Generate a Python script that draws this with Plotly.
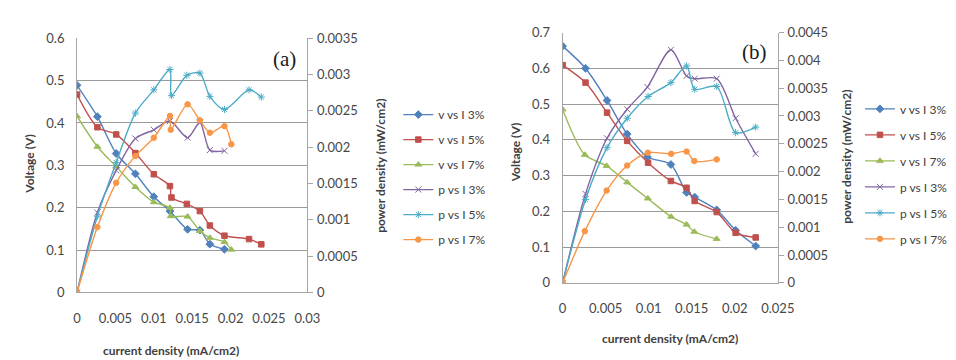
import plotly.graph_objects as go

# ---------------- data: chart (a) ----------------
x3a = [0, 0.00265, 0.0051, 0.0076, 0.0100, 0.0121, 0.0144, 0.0160, 0.0173, 0.0192]
v3a = [0.489, 0.415, 0.328, 0.280, 0.226, 0.192, 0.149, 0.147, 0.114, 0.102]
p3a = [0, 0.00110, 0.00168, 0.00212, 0.00224, 0.00236, 0.00213, 0.00234, 0.00196, 0.00195]

x5a = [0, 0.00265, 0.0051, 0.0076, 0.0100, 0.0121, 0.0123, 0.0143, 0.0160, 0.0173, 0.0192, 0.0224, 0.0240]
v5a = [0.467, 0.390, 0.373, 0.329, 0.279, 0.251, 0.224, 0.209, 0.192, 0.158, 0.134, 0.126, 0.1135]
p5a = [0, 0.00105, 0.00179, 0.00247, 0.00279, 0.00307, 0.00271, 0.00299, 0.00302, 0.00270, 0.00252, 0.00279, 0.00269]

x7a = [0, 0.00265, 0.0051, 0.0076, 0.0100, 0.0121, 0.0122, 0.0144, 0.0160, 0.0173, 0.0192, 0.0201]
v7a = [0.416, 0.344, 0.297, 0.249, 0.213, 0.200, 0.180, 0.179, 0.145, 0.129, 0.119, 0.101]
p7a = [0, 0.00090, 0.00151, 0.00188, 0.00213, 0.00243, 0.00224, 0.00259, 0.00237, 0.00220, 0.00229, 0.00204]

# ---------------- data: chart (b) ----------------
x3b = [0, 0.00266, 0.00516, 0.0075, 0.00985, 0.01258, 0.0144, 0.01534, 0.0179, 0.0201, 0.02243]
v3b = [0.662, 0.600, 0.510, 0.416, 0.352, 0.331, 0.253, 0.240, 0.204, 0.147, 0.103]
p3b = [0, 0.00160, 0.00260, 0.00312, 0.00352, 0.00419, 0.00372, 0.00367, 0.00367, 0.00296, 0.00232]

x5b = [0, 0.00266, 0.00516, 0.0075, 0.00993, 0.01258, 0.0144, 0.01534, 0.0179, 0.0201, 0.02243]
v5b = [0.609, 0.560, 0.476, 0.397, 0.336, 0.285, 0.266, 0.229, 0.198, 0.140, 0.127]
p5b = [0, 0.00150, 0.00243, 0.00296, 0.00335, 0.00360, 0.00390, 0.00348, 0.00353, 0.00270, 0.00280]

x7b = [0, 0.00258, 0.00511, 0.0075, 0.0099, 0.0126, 0.0144, 0.0153, 0.0179]
v7b = [0.485, 0.358, 0.327, 0.281, 0.236, 0.185, 0.163, 0.143, 0.123]
p7b = [0, 0.00093, 0.00166, 0.00211, 0.00234, 0.00232, 0.00236, 0.00219, 0.00222]

names = ["v vs I 3%", "v vs I 5%", "v vs I 7%", "p vs I 3%", "p vs I 5%", "p vs I 7%"]

# tick labels
xticks_a = [0, 0.005, 0.01, 0.015, 0.02, 0.025, 0.03]
xlabels_a = ["0", "0.005", "0.01", "0.015", "0.02", "0.025", "0.03"]
xticks_b = [0, 0.005, 0.01, 0.015, 0.02, 0.025]
xlabels_b = ["0", "0.005", "0.01", "0.015", "0.02", "0.025"]
vticks_a = [0, 0.1, 0.2, 0.3, 0.4, 0.5, 0.6]
vlabels_a = ["0", "0.1", "0.2", "0.3", "0.4", "0.5", "0.6"]
vticks_b = [0, 0.1, 0.2, 0.3, 0.4, 0.5, 0.6, 0.7]
vlabels_b = ["0", "0.1", "0.2", "0.3", "0.4", "0.5", "0.6", "0.7"]
pticks_a = [0, 0.0005, 0.001, 0.0015, 0.002, 0.0025, 0.003, 0.0035]
plabels_a = ["0", "0.0005", "0.001", "0.0015", "0.002", "0.0025", "0.003", "0.0035"]
pticks_b = [0, 0.0005, 0.001, 0.0015, 0.002, 0.0025, 0.003, 0.0035, 0.004, 0.0045]
plabels_b = ["0", "0.0005", "0.001", "0.0015", "0.002", "0.0025", "0.003", "0.0035", "0.004", "0.0045"]

colors = ["#4F81BD", "#C0504D", "#9BBB59", "#8064A2", "#4BACC6", "#F79646"]
symbols = ["diamond", "square", "triangle-up", "x-thin-open", "asterisk-open", "circle"]
msizes = [6, 5.5, 6, 6, 6, 5.5]

W, H = 956, 360
def px_x(v):
    return v / W
def px_y(v):
    return 1 - v / H

fig = go.Figure()

def add_set(xs, ys, xa, ya, legend, idx):
    c = colors[idx]
    fig.add_trace(go.Scatter(
        x=xs, y=ys, xaxis=xa, yaxis=ya, name=names[idx], legend=legend,
        legendgroup=legend + str(idx),
        mode="lines+markers",
        line=dict(color=c, width=1.4, shape="spline", smoothing=0.8),
        marker=dict(symbol=symbols[idx], size=msizes[idx], color=c,
                    line=dict(color=c, width=1)),
    ))

for i, (xs, ys) in enumerate([(x3a, v3a), (x5a, v5a), (x7a, v7a)]):
    add_set(xs, ys, "x", "y", "legend", i)
for i, (xs, ys) in enumerate([(x3a, p3a), (x5a, p5a), (x7a, p7a)]):
    add_set(xs, ys, "x", "y2", "legend", i + 3)
for i, (xs, ys) in enumerate([(x3b, v3b), (x5b, v5b), (x7b, v7b)]):
    add_set(xs, ys, "x2", "y3", "legend2", i)
for i, (xs, ys) in enumerate([(x3b, p3b), (x5b, p5b), (x7b, p7b)]):
    add_set(xs, ys, "x2", "y4", "legend2", i + 3)

tickfont = dict(family="Lato", size=13, color="#474747")
axcol = "#A6A6A6"
gridcol = "#9A9A9A"

dom_xa = [px_x(66.5), px_x(302)]
dom_ya = [px_y(289.3), px_y(23.3)]
dom_xb = [px_x(563), px_x(783)]
dom_yb = [px_y(279.3), px_y(17.3)]

common_x = dict(showline=True, linecolor=axcol, linewidth=1, showgrid=False, zeroline=False,
                ticks="", tickfont=tickfont, ticklabelstandoff=14, fixedrange=True)
common_yl = dict(showline=True, linecolor=axcol, linewidth=1, showgrid=True, gridcolor=gridcol,
                 gridwidth=1, zeroline=False, ticks="outside", ticklen=9,
                 tickcolor="rgba(0,0,0,0)", tickfont=tickfont)
common_yr = dict(showline=True, linecolor=axcol, linewidth=1, showgrid=False, zeroline=False,
                 ticks="outside", ticklen=5, tickcolor=axcol, tickfont=tickfont,
                 ticklabelstandoff=1, side="right")

legfont = dict(family="Lato", size=12, color="#404040")

fig.update_layout(
    width=W, height=H, margin=dict(l=0, r=0, t=0, b=0),
    paper_bgcolor="white", plot_bgcolor="white",
    xaxis=dict(domain=dom_xa, range=[0, 0.03], tickvals=xticks_a, ticktext=xlabels_a,
               anchor="y", **common_x),
    yaxis=dict(domain=dom_ya, range=[0, 0.6], tickvals=vticks_a, ticktext=vlabels_a,
               anchor="x", **common_yl),
    yaxis2=dict(range=[0, 0.0035], tickvals=pticks_a, ticktext=plabels_a,
                overlaying="y", anchor="x", **common_yr),
    xaxis2=dict(domain=dom_xb, range=[0, 0.025], tickvals=xticks_b, ticktext=xlabels_b,
                anchor="y3", **common_x),
    yaxis3=dict(domain=dom_yb, range=[0, 0.7], tickvals=vticks_b, ticktext=vlabels_b,
                anchor="x2", **common_yl),
    yaxis4=dict(range=[0, 0.0045], tickvals=pticks_b, ticktext=plabels_b,
                overlaying="y3", anchor="x2", **common_yr),
    legend=dict(x=px_x(395), y=px_y(88), xanchor="left", yanchor="top",
                font=legfont, bgcolor="rgba(0,0,0,0)", itemwidth=30, tracegroupgap=6,
                itemclick=False),
    legend2=dict(x=px_x(867), y=px_y(82), xanchor="left", yanchor="top",
                 font=legfont, bgcolor="rgba(0,0,0,0)", itemwidth=30, tracegroupgap=7,
                 itemclick=False),
    showlegend=True,
)

title_font = dict(family="Lato", size=12, color="#404040", weight="bold")
ann = [
    dict(text="Voltage (V)", x=px_x(18), y=px_y(155), textangle=-90),
    dict(text="power density (mW/cm2)", x=px_x(376), y=px_y(157), textangle=-90),
    dict(text="current density (mA/cm2)", x=px_x(163), y=px_y(350), textangle=0),
    dict(text="Voltage (V)", x=px_x(515), y=px_y(143), textangle=-90),
    dict(text="power density (mW/cm2)", x=px_x(853), y=px_y(147), textangle=-90),
    dict(text="current density (mA/cm2)", x=px_x(673), y=px_y(337), textangle=0),
]
for a in ann:
    fig.add_annotation(xref="paper", yref="paper", showarrow=False,
                       xanchor="center", yanchor="middle", font=title_font, **a)

fig.add_annotation(text="(a)", xref="paper", yref="paper", x=px_x(279), y=px_y(45),
                   showarrow=False, xanchor="center", yanchor="middle",
                   font=dict(family="Liberation Serif", size=21, color="#1a1a1a"))
fig.add_annotation(text="(b)", xref="paper", yref="paper", x=px_x(759), y=px_y(38),
                   showarrow=False, xanchor="center", yanchor="middle",
                   font=dict(family="Liberation Serif", size=21, color="#1a1a1a"))

fig.write_html("out.html")
